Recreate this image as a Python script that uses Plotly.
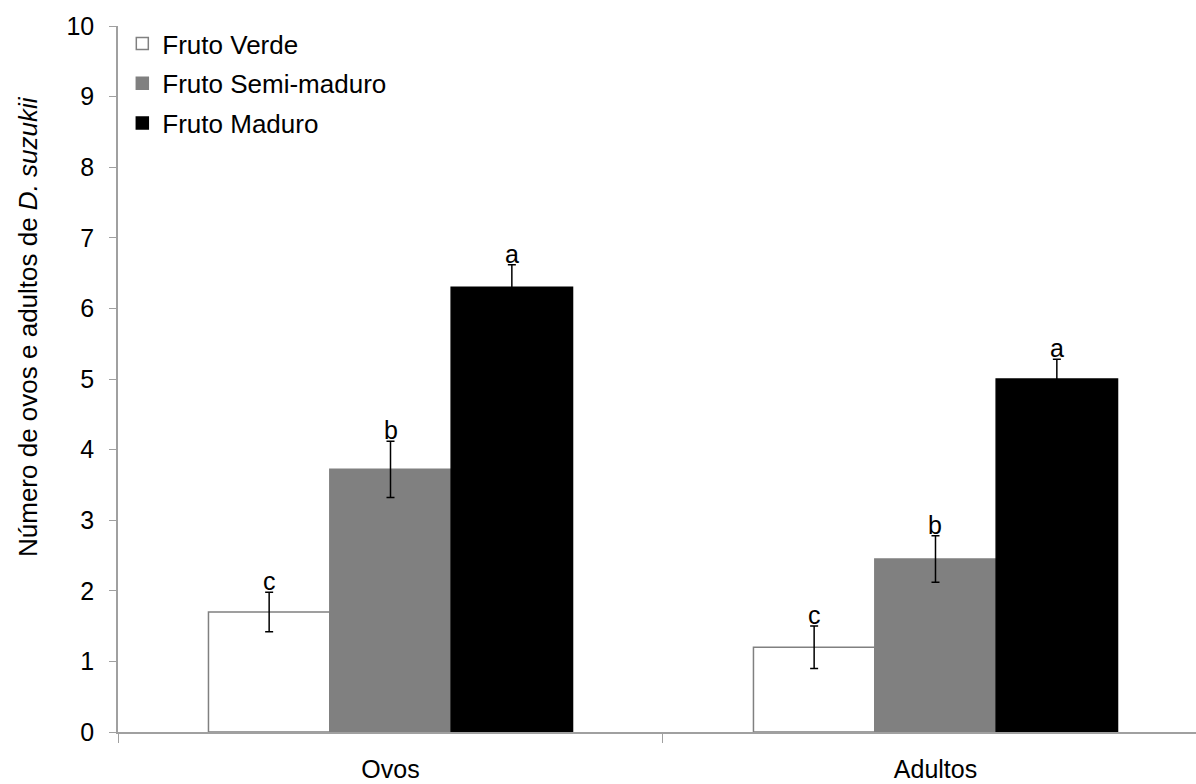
import plotly.graph_objects as go

categories = ["Ovos", "Adultos"]
series_names = ["Fruto Verde", "Fruto Semi-maduro", "Fruto Maduro"]
verde = [1.70, 1.20]
semi = [3.72, 2.45]
maduro = [6.30, 5.00]
verde_err = [0.28, 0.30]
semi_err = [0.40, 0.33]
maduro_err = [0.32, 0.28]
verde_letters = ["c", "c"]
semi_letters = ["b", "b"]
maduro_letters = ["a", "a"]
y_ticks = list(range(0, 11))
y_title = "Número de ovos e adultos de <i>D. suzukii</i>"

values = [verde, semi, maduro]
errors = [verde_err, semi_err, maduro_err]
letters = [verde_letters, semi_letters, maduro_letters]
fills = ["#ffffff", "#808080", "#000000"]
outlines = ["#808080", "#808080", "#000000"]

BARGAP = 0.332
FONT = "Liberation Sans, Arial, sans-serif"

fig = go.Figure()
for i, name in enumerate(series_names):
    fig.add_trace(go.Bar(
        x=categories, y=values[i], name=name,
        marker=dict(color=fills[i], line=dict(color=outlines[i], width=1.5)),
        error_y=dict(type="data", array=errors[i], visible=True,
                     color="#000000", thickness=1.5, width=4),
        legendgroup=name,
    ))

bw = (1 - BARGAP) / 3
for i in range(3):
    for j, cat in enumerate(categories):
        fig.add_annotation(
            x=j + (i - 1) * bw, y=values[i][j] + errors[i][j],
            xref="x", yref="y", text=letters[i][j], showarrow=False,
            yanchor="bottom", yshift=-5,
            font=dict(family=FONT, size=25, color="#000000"),
        )

# y-axis title (placed as in the reference, slightly above the axis centre)
fig.add_annotation(
    x=0, xref="paper", xshift=-90, y=0.5 + 52 / 706, yref="paper",
    text=y_title, textangle=-90, showarrow=False,
    xanchor="center", yanchor="middle",
    font=dict(family=FONT, size=26, color="#000000"),
)

fig.update_layout(
    width=1196, height=784,
    margin=dict(l=118, r=0, t=26, b=52),
    plot_bgcolor="#ffffff", paper_bgcolor="#ffffff",
    barmode="group", bargap=BARGAP, bargroupgap=0,
    font=dict(family=FONT, size=25, color="#000000"),
    legend=dict(x=0.004, y=1.0 + 6 / 706, xanchor="left", yanchor="top",
                font=dict(family=FONT, size=26, color="#000000"),
                tracegroupgap=3, bgcolor="rgba(0,0,0,0)"),
    showlegend=True,
)
fig.update_xaxes(
    type="category", range=[-0.5, 1.478],
    showline=True, linecolor="#a0a0a0", linewidth=1.5,
    ticks="outside", tickson="boundaries", ticklen=9, tickcolor="#a0a0a0",
    tickfont=dict(family=FONT, size=25, color="#000000"),
    ticklabelstandoff=14, showgrid=False, zeroline=False, automargin=False,
)
fig.update_yaxes(
    range=[0, 10], tickvals=y_ticks,
    showline=True, linecolor="#a0a0a0", linewidth=1.5,
    ticks="outside", ticklen=7, tickcolor="#a0a0a0",
    tickfont=dict(family=FONT, size=25, color="#000000"),
    ticklabelstandoff=10, showgrid=False, zeroline=False, automargin=False,
)

fig.write_html("out.html", config={"displayModeBar": False},
               post_script="document.body.style.margin='0';")
